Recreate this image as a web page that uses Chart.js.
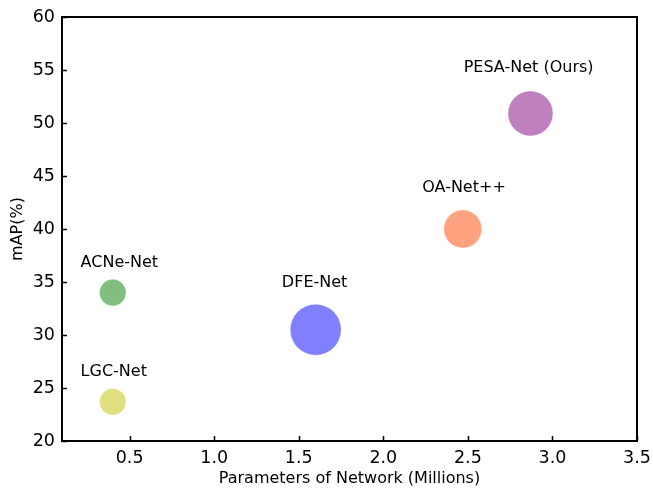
<!DOCTYPE html>
<html><head><meta charset="utf-8">
<script src="https://cdn.jsdelivr.net/npm/chart.js@4/dist/chart.umd.min.js"></script>
<style>html,body{margin:0;padding:0;background:#fff}canvas{display:block}</style>
</head><body>
<canvas id="c" width="653" height="490"></canvas>
<script>
// ---- data ----
const models = ['LGC-Net', 'ACNe-Net', 'DFE-Net', 'OA-Net++', 'PESA-Net (Ours)'];
const params = [0.4, 0.4, 1.6, 2.47, 2.87];          // Parameters of Network (Millions)
const mAP = [23.7, 34.0, 30.5, 40.0, 50.9];           // mAP(%)
const bubbleSize = [13.3, 13.3, 25.5, 19, 22.5];      // bubble radius
const labelX = [0.21, 0.21, 1.40, 2.23, 2.475];       // annotation anchor (x, data units)
const labelY = [26.1, 36.4, 34.5, 43.5, 54.8];        // annotation anchor (y, data units)
const xTicks = [0.5, 1.0, 1.5, 2.0, 2.5, 3.0, 3.5];
const yTicks = [20, 25, 30, 35, 40, 45, 50, 55, 60];
const colors = ['#dfdf80', '#80bf80', '#8080ff', '#ffa280', '#bf80bf'];

const FONT = '"DejaVu Sans", sans-serif';

const points = params.map((x, i) => ({x: x, y: mAP[i], r: bubbleSize[i]}));

const framePlugin = {
  id: 'frame',
  afterDatasetsDraw(chart) {
    const ctx = chart.ctx;
    const xs = chart.scales.x, ys = chart.scales.y;
    ctx.save();
    ctx.fillStyle = '#000';
    ctx.font = '16px ' + FONT;
    ctx.textAlign = 'left';
    ctx.textBaseline = 'alphabetic';
    models.forEach((m, i) => {
      ctx.fillText(m, xs.getPixelForValue(labelX[i]), ys.getPixelForValue(labelY[i]));
    });
    ctx.restore();
  },
  afterDraw(chart) {
    const ctx = chart.ctx;
    const a = chart.chartArea;
    const xs = chart.scales.x, ys = chart.scales.y;
    ctx.save();
    ctx.strokeStyle = '#000';
    ctx.lineWidth = 1.5;
    ctx.beginPath();
    xTicks.forEach(v => {
      const px = Math.round(xs.getPixelForValue(v)) + 0.5;
      ctx.moveTo(px, a.bottom);
      ctx.lineTo(px, a.bottom - 5);
    });
    yTicks.forEach(v => {
      const py = Math.round(ys.getPixelForValue(v)) + 0.5;
      ctx.moveTo(a.left, py);
      ctx.lineTo(a.left + 5, py);
    });
    ctx.stroke();
    ctx.lineWidth = 2;
    ctx.strokeRect(a.left, a.top, a.right - a.left, a.bottom - a.top);
    ctx.restore();
  }
};

new Chart(document.getElementById('c'), {
  type: 'bubble',
  data: {
    datasets: [{
      data: points,
      backgroundColor: colors,
      borderColor: 'rgba(255,255,255,0.35)',
      borderWidth: 1,
      hoverRadius: 0,
      clip: false
    }]
  },
  options: {
    responsive: false,
    devicePixelRatio: 1,
    animation: false,
    events: [],
    layout: {autoPadding: false, padding: {top: 17, right: 16, left: 0, bottom: 0}},
    plugins: {legend: {display: false}, tooltip: {enabled: false}},
    scales: {
      x: {
        type: 'linear', min: 0.1, max: 3.5,
        afterBuildTicks: s => { s.ticks = xTicks.map(v => ({value: v})); },
        afterFit: s => { s.height = 49; s.paddingLeft = 0; s.paddingRight = 0; },
        ticks: {callback: v => Number(v).toFixed(1), color: '#000', font: {family: FONT, size: 17.5}, padding: 7, maxRotation: 0, autoSkip: false},
        grid: {display: false, drawTicks: false},
        border: {display: false},
        title: {display: true, text: 'Parameters of Network (Millions)', color: '#000', font: {family: FONT, size: 16}, padding: {top: 0, bottom: 1.5}}
      },
      y: {
        type: 'linear', min: 20, max: 60,
        afterBuildTicks: s => { s.ticks = yTicks.map(v => ({value: v})); },
        afterFit: s => { s.width = 62; s.paddingTop = 0; s.paddingBottom = 0; },
        ticks: {color: '#000', font: {family: FONT, size: 17.5}, padding: 7, autoSkip: false},
        grid: {display: false, drawTicks: false},
        border: {display: false},
        title: {display: true, text: 'mAP(%)', color: '#000', font: {family: FONT, size: 16}, padding: {top: 8.5, bottom: 0}}
      }
    }
  },
  plugins: [framePlugin]
});
</script>
</body></html>
